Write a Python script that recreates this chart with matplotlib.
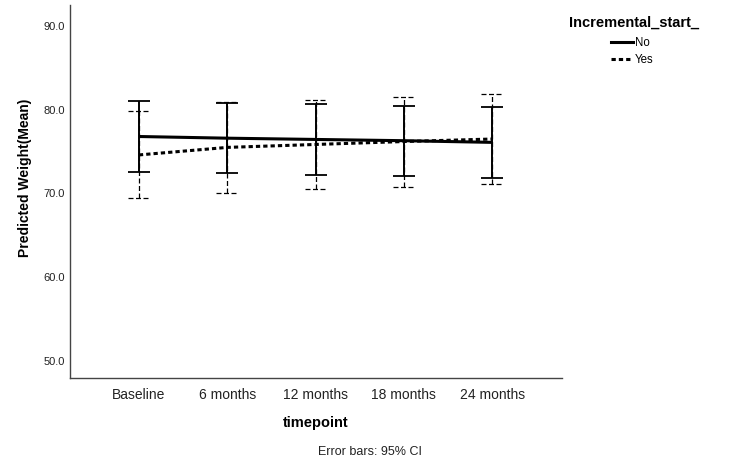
import numpy as np
import matplotlib
matplotlib.use("Agg")
import matplotlib.pyplot as plt
from matplotlib.lines import Line2D

plt.rcParams['font.family'] = ['Liberation Sans', 'DejaVu Sans']

# Chart data
timepoints = ["Baseline", "6 months", "12 months", "18 months", "24 months"]

no_mean = [76.8, 76.6, 76.45, 76.3, 76.1]
no_lo = [72.6, 72.4, 72.2, 72.1, 71.9]
no_hi = [81.0, 80.8, 80.7, 80.5, 80.3]

yes_mean = [74.6, 75.5, 75.85, 76.2, 76.5]
yes_lo = [69.4, 70.1, 70.5, 70.8, 71.1]
yes_hi = [79.9, 80.9, 81.2, 81.55, 81.9]

y_ticks = [50, 60, 70, 80, 90]

W, H = 750, 470
fig = plt.figure(figsize=(W / 100, H / 100), dpi=100)
ax = fig.add_axes([70 / W, 1 - 378 / H, (562 - 70) / W, (378 - 5) / H])

x = np.arange(len(timepoints))
cap = 0.125
dash_line = (0, (1.4, 1.0))
dash_bar = (0, (4, 2))

# Error bars of the "Yes" group: dashed, drawn first
ax.vlines(x, yes_lo, yes_hi, colors="black", linewidth=0.9, linestyles=dash_bar)
ax.hlines(yes_lo, x - cap, x + cap, colors="black", linewidth=0.9, linestyles=dash_bar)
ax.hlines(yes_hi, x - cap, x + cap, colors="black", linewidth=0.9, linestyles=dash_bar)

# Error bars of the "No" group: solid, on top
ax.vlines(x, no_lo, no_hi, colors="black", linewidth=1.4)
ax.hlines(no_lo, x - cap, x + cap, colors="black", linewidth=1.3)
ax.hlines(no_hi, x - cap, x + cap, colors="black", linewidth=1.3)

# Mean lines
ax.plot(x, no_mean, color="black", linewidth=2.2, solid_capstyle="butt")
ax.plot(x, yes_mean, color="black", linewidth=2.2, linestyle=dash_line,
        dash_capstyle="butt")

ax.set_xlim(-0.78, 4.79)
ax.set_ylim(47.97, 92.5)
ax.set_xticks(x)
ax.set_xticklabels(timepoints, fontsize=10, color="#222222")
ax.set_yticks(y_ticks)
ax.set_yticklabels(["%.1f" % v for v in y_ticks], fontsize=8, color="#222222")
ax.tick_params(axis="x", length=0, pad=7)
ax.tick_params(axis="y", length=0, pad=3.6)

for side in ("top", "right"):
    ax.spines[side].set_visible(False)
for side in ("left", "bottom"):
    ax.spines[side].set_color("#444444")
    ax.spines[side].set_linewidth(1.0)

# Axis titles and footnote
fig.text(25 / W, 1 - 178 / H, "Predicted Weight(Mean)", rotation=90,
         ha="center", va="center", fontsize=10, fontweight="bold")
fig.text(316 / W, 1 - 423 / H, "timepoint", ha="center", va="center",
         fontsize=10.5, fontweight="bold")
fig.text(370 / W, 1 - 452 / H, "Error bars: 95% CI", ha="center", va="center",
         fontsize=9, color="#222222")

# Legend
fig.text(569 / W, 1 - 23 / H, "Incremental_start_", ha="left", va="center",
         fontsize=10.5, fontweight="bold")
handles = [Line2D([], [], color="black", linewidth=2.2),
           Line2D([], [], color="black", linewidth=2.2, linestyle=dash_line)]
fig.legend(handles, ["No", "Yes"], loc="upper left",
           bbox_to_anchor=(611 / W, 1 - 37 / H), frameon=False,
           borderpad=0, borderaxespad=0, handlelength=1.9, handletextpad=0.2,
           labelspacing=0.45, prop={"size": 8.3})

fig.savefig("out.png", dpi=100)
